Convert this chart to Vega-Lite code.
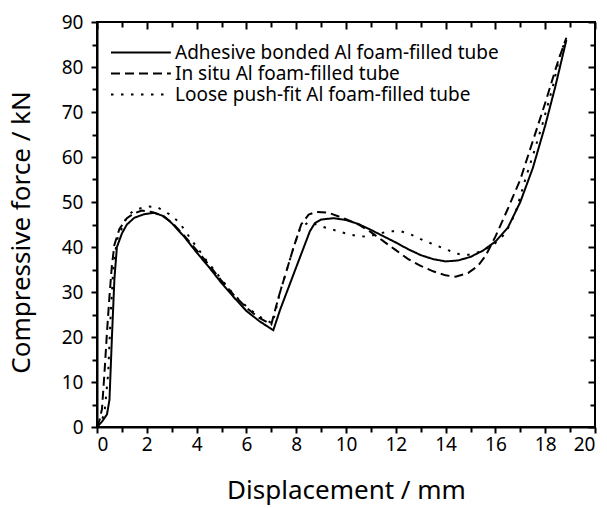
{
  "$schema": "https://vega.github.io/schema/vega-lite/v6.json",
  "width": 498,
  "height": 405,
  "autosize": {"type": "none"},
  "padding": {"left": 97, "top": 22, "right": 12, "bottom": 81},
  "background": "white",
  "config": {
    "font": "Noto Sans",
    "view": {"stroke": "black", "strokeWidth": 2},
    "axis": {
      "labelFont": "Noto Sans", "labelFontSize": 19, "labelColor": "black",
      "titleFont": "Noto Sans", "titleFontSize": 26, "titleFontWeight": "normal", "titleColor": "black",
      "domainColor": "black", "tickColor": "black", "grid": false, "tickWidth": 2, "domainWidth": 2
    },
    "legend": {"labelFont": "Noto Sans", "labelFontSize": 19, "labelColor": "black", "labelLimit": 0}
  },
  "data": {"values": [
    {"s": "Adhesive bonded Al foam-filled tube", "d": 0, "f": 0},
    {"s": "Adhesive bonded Al foam-filled tube", "d": 0.2, "f": 1.2},
    {"s": "Adhesive bonded Al foam-filled tube", "d": 0.4, "f": 2.8},
    {"s": "Adhesive bonded Al foam-filled tube", "d": 0.5, "f": 6},
    {"s": "Adhesive bonded Al foam-filled tube", "d": 0.6, "f": 20},
    {"s": "Adhesive bonded Al foam-filled tube", "d": 0.7, "f": 33},
    {"s": "Adhesive bonded Al foam-filled tube", "d": 0.8, "f": 40},
    {"s": "Adhesive bonded Al foam-filled tube", "d": 1.0, "f": 43},
    {"s": "Adhesive bonded Al foam-filled tube", "d": 1.2, "f": 45},
    {"s": "Adhesive bonded Al foam-filled tube", "d": 1.5, "f": 46.5},
    {"s": "Adhesive bonded Al foam-filled tube", "d": 1.9, "f": 47.3},
    {"s": "Adhesive bonded Al foam-filled tube", "d": 2.3, "f": 47.6},
    {"s": "Adhesive bonded Al foam-filled tube", "d": 2.7, "f": 46.8},
    {"s": "Adhesive bonded Al foam-filled tube", "d": 3.0, "f": 45.3},
    {"s": "Adhesive bonded Al foam-filled tube", "d": 3.5, "f": 42.3},
    {"s": "Adhesive bonded Al foam-filled tube", "d": 4.0, "f": 38.8},
    {"s": "Adhesive bonded Al foam-filled tube", "d": 4.5, "f": 35.5},
    {"s": "Adhesive bonded Al foam-filled tube", "d": 5.0, "f": 32},
    {"s": "Adhesive bonded Al foam-filled tube", "d": 5.5, "f": 28.8},
    {"s": "Adhesive bonded Al foam-filled tube", "d": 6.0, "f": 25.8},
    {"s": "Adhesive bonded Al foam-filled tube", "d": 6.5, "f": 23.6},
    {"s": "Adhesive bonded Al foam-filled tube", "d": 7.08, "f": 21.5},
    {"s": "Adhesive bonded Al foam-filled tube", "d": 7.35, "f": 26},
    {"s": "Adhesive bonded Al foam-filled tube", "d": 8.0, "f": 35.5},
    {"s": "Adhesive bonded Al foam-filled tube", "d": 8.55, "f": 43.5},
    {"s": "Adhesive bonded Al foam-filled tube", "d": 8.75, "f": 45.3},
    {"s": "Adhesive bonded Al foam-filled tube", "d": 9.0, "f": 46.1},
    {"s": "Adhesive bonded Al foam-filled tube", "d": 9.5, "f": 46.4},
    {"s": "Adhesive bonded Al foam-filled tube", "d": 10.0, "f": 46},
    {"s": "Adhesive bonded Al foam-filled tube", "d": 10.5, "f": 45.1},
    {"s": "Adhesive bonded Al foam-filled tube", "d": 11.0, "f": 43.8},
    {"s": "Adhesive bonded Al foam-filled tube", "d": 11.5, "f": 42.4},
    {"s": "Adhesive bonded Al foam-filled tube", "d": 12.0, "f": 41},
    {"s": "Adhesive bonded Al foam-filled tube", "d": 12.5, "f": 39.5},
    {"s": "Adhesive bonded Al foam-filled tube", "d": 13.0, "f": 38.2},
    {"s": "Adhesive bonded Al foam-filled tube", "d": 13.5, "f": 37.3},
    {"s": "Adhesive bonded Al foam-filled tube", "d": 14.0, "f": 36.8},
    {"s": "Adhesive bonded Al foam-filled tube", "d": 14.5, "f": 37},
    {"s": "Adhesive bonded Al foam-filled tube", "d": 15.0, "f": 37.8},
    {"s": "Adhesive bonded Al foam-filled tube", "d": 15.5, "f": 39.2},
    {"s": "Adhesive bonded Al foam-filled tube", "d": 16.0, "f": 41.2},
    {"s": "Adhesive bonded Al foam-filled tube", "d": 16.5, "f": 44.3},
    {"s": "Adhesive bonded Al foam-filled tube", "d": 17.0, "f": 50},
    {"s": "Adhesive bonded Al foam-filled tube", "d": 17.5, "f": 57.5},
    {"s": "Adhesive bonded Al foam-filled tube", "d": 18.0, "f": 67},
    {"s": "Adhesive bonded Al foam-filled tube", "d": 18.4, "f": 75.5},
    {"s": "Adhesive bonded Al foam-filled tube", "d": 18.85, "f": 86},
    {"s": "In situ Al foam-filled tube", "d": 0, "f": 0},
    {"s": "In situ Al foam-filled tube", "d": 0.1, "f": 1.5},
    {"s": "In situ Al foam-filled tube", "d": 0.2, "f": 4},
    {"s": "In situ Al foam-filled tube", "d": 0.3, "f": 12},
    {"s": "In situ Al foam-filled tube", "d": 0.4, "f": 21},
    {"s": "In situ Al foam-filled tube", "d": 0.5, "f": 29},
    {"s": "In situ Al foam-filled tube", "d": 0.6, "f": 36},
    {"s": "In situ Al foam-filled tube", "d": 0.7, "f": 40.5},
    {"s": "In situ Al foam-filled tube", "d": 0.9, "f": 44},
    {"s": "In situ Al foam-filled tube", "d": 1.2, "f": 46.4},
    {"s": "In situ Al foam-filled tube", "d": 1.5, "f": 47.5},
    {"s": "In situ Al foam-filled tube", "d": 1.8, "f": 48.1},
    {"s": "In situ Al foam-filled tube", "d": 2.2, "f": 47.8},
    {"s": "In situ Al foam-filled tube", "d": 2.6, "f": 47},
    {"s": "In situ Al foam-filled tube", "d": 3.0, "f": 45.5},
    {"s": "In situ Al foam-filled tube", "d": 3.5, "f": 42.5},
    {"s": "In situ Al foam-filled tube", "d": 4.0, "f": 39.3},
    {"s": "In situ Al foam-filled tube", "d": 4.5, "f": 36},
    {"s": "In situ Al foam-filled tube", "d": 5.0, "f": 32.5},
    {"s": "In situ Al foam-filled tube", "d": 5.5, "f": 29.3},
    {"s": "In situ Al foam-filled tube", "d": 6.0, "f": 26.5},
    {"s": "In situ Al foam-filled tube", "d": 6.5, "f": 24.3},
    {"s": "In situ Al foam-filled tube", "d": 7.0, "f": 22.8},
    {"s": "In situ Al foam-filled tube", "d": 7.3, "f": 29},
    {"s": "In situ Al foam-filled tube", "d": 7.6, "f": 34.5},
    {"s": "In situ Al foam-filled tube", "d": 7.9, "f": 40},
    {"s": "In situ Al foam-filled tube", "d": 8.2, "f": 45},
    {"s": "In situ Al foam-filled tube", "d": 8.5, "f": 47.2},
    {"s": "In situ Al foam-filled tube", "d": 8.8, "f": 47.8},
    {"s": "In situ Al foam-filled tube", "d": 9.3, "f": 47.6},
    {"s": "In situ Al foam-filled tube", "d": 10.0, "f": 46.2},
    {"s": "In situ Al foam-filled tube", "d": 10.5, "f": 45},
    {"s": "In situ Al foam-filled tube", "d": 11.0, "f": 43.3},
    {"s": "In situ Al foam-filled tube", "d": 11.5, "f": 41.3},
    {"s": "In situ Al foam-filled tube", "d": 12.0, "f": 39.3},
    {"s": "In situ Al foam-filled tube", "d": 12.5, "f": 37.3},
    {"s": "In situ Al foam-filled tube", "d": 13.0, "f": 35.8},
    {"s": "In situ Al foam-filled tube", "d": 13.5, "f": 34.6},
    {"s": "In situ Al foam-filled tube", "d": 14.0, "f": 33.7},
    {"s": "In situ Al foam-filled tube", "d": 14.4, "f": 33.4},
    {"s": "In situ Al foam-filled tube", "d": 14.9, "f": 34.2},
    {"s": "In situ Al foam-filled tube", "d": 15.3, "f": 35.8},
    {"s": "In situ Al foam-filled tube", "d": 15.6, "f": 38},
    {"s": "In situ Al foam-filled tube", "d": 16.0, "f": 42.3},
    {"s": "In situ Al foam-filled tube", "d": 16.5, "f": 48.5},
    {"s": "In situ Al foam-filled tube", "d": 17.0, "f": 55},
    {"s": "In situ Al foam-filled tube", "d": 17.5, "f": 63.5},
    {"s": "In situ Al foam-filled tube", "d": 18.0, "f": 72},
    {"s": "In situ Al foam-filled tube", "d": 18.5, "f": 81},
    {"s": "In situ Al foam-filled tube", "d": 18.85, "f": 86.5},
    {"s": "Loose push-fit Al foam-filled tube", "d": 0, "f": 0},
    {"s": "Loose push-fit Al foam-filled tube", "d": 0.15, "f": 1},
    {"s": "Loose push-fit Al foam-filled tube", "d": 0.3, "f": 3},
    {"s": "Loose push-fit Al foam-filled tube", "d": 0.45, "f": 12},
    {"s": "Loose push-fit Al foam-filled tube", "d": 0.55, "f": 25},
    {"s": "Loose push-fit Al foam-filled tube", "d": 0.65, "f": 35},
    {"s": "Loose push-fit Al foam-filled tube", "d": 0.8, "f": 41.5},
    {"s": "Loose push-fit Al foam-filled tube", "d": 1.2, "f": 46.8},
    {"s": "Loose push-fit Al foam-filled tube", "d": 1.5, "f": 48.2},
    {"s": "Loose push-fit Al foam-filled tube", "d": 2.0, "f": 49},
    {"s": "Loose push-fit Al foam-filled tube", "d": 2.4, "f": 48.9},
    {"s": "Loose push-fit Al foam-filled tube", "d": 2.9, "f": 47.3},
    {"s": "Loose push-fit Al foam-filled tube", "d": 3.3, "f": 45.5},
    {"s": "Loose push-fit Al foam-filled tube", "d": 3.8, "f": 41.5},
    {"s": "Loose push-fit Al foam-filled tube", "d": 4.4, "f": 37},
    {"s": "Loose push-fit Al foam-filled tube", "d": 5.0, "f": 32.8},
    {"s": "Loose push-fit Al foam-filled tube", "d": 5.5, "f": 29.4},
    {"s": "Loose push-fit Al foam-filled tube", "d": 6.0, "f": 26.8},
    {"s": "Loose push-fit Al foam-filled tube", "d": 6.5, "f": 24.6},
    {"s": "Loose push-fit Al foam-filled tube", "d": 7.05, "f": 23},
    {"s": "Loose push-fit Al foam-filled tube", "d": 7.35, "f": 30},
    {"s": "Loose push-fit Al foam-filled tube", "d": 7.6, "f": 34.5},
    {"s": "Loose push-fit Al foam-filled tube", "d": 7.9, "f": 40},
    {"s": "Loose push-fit Al foam-filled tube", "d": 8.15, "f": 44},
    {"s": "Loose push-fit Al foam-filled tube", "d": 8.5, "f": 45.6},
    {"s": "Loose push-fit Al foam-filled tube", "d": 9.0, "f": 44.6},
    {"s": "Loose push-fit Al foam-filled tube", "d": 9.5, "f": 43.8},
    {"s": "Loose push-fit Al foam-filled tube", "d": 10.0, "f": 43},
    {"s": "Loose push-fit Al foam-filled tube", "d": 10.5, "f": 42.4},
    {"s": "Loose push-fit Al foam-filled tube", "d": 10.9, "f": 42.3},
    {"s": "Loose push-fit Al foam-filled tube", "d": 11.3, "f": 43},
    {"s": "Loose push-fit Al foam-filled tube", "d": 11.8, "f": 43.5},
    {"s": "Loose push-fit Al foam-filled tube", "d": 12.2, "f": 43.5},
    {"s": "Loose push-fit Al foam-filled tube", "d": 12.6, "f": 42.8},
    {"s": "Loose push-fit Al foam-filled tube", "d": 13.1, "f": 41.5},
    {"s": "Loose push-fit Al foam-filled tube", "d": 13.6, "f": 40.4},
    {"s": "Loose push-fit Al foam-filled tube", "d": 14.1, "f": 39.3},
    {"s": "Loose push-fit Al foam-filled tube", "d": 14.6, "f": 38.3},
    {"s": "Loose push-fit Al foam-filled tube", "d": 15.0, "f": 38.3},
    {"s": "Loose push-fit Al foam-filled tube", "d": 15.4, "f": 39},
    {"s": "Loose push-fit Al foam-filled tube", "d": 15.9, "f": 40.4},
    {"s": "Loose push-fit Al foam-filled tube", "d": 16.4, "f": 43},
    {"s": "Loose push-fit Al foam-filled tube", "d": 16.8, "f": 47.5},
    {"s": "Loose push-fit Al foam-filled tube", "d": 17.2, "f": 55},
    {"s": "Loose push-fit Al foam-filled tube", "d": 17.6, "f": 62},
    {"s": "Loose push-fit Al foam-filled tube", "d": 17.9, "f": 67.5},
    {"s": "Loose push-fit Al foam-filled tube", "d": 18.3, "f": 75.5},
    {"s": "Loose push-fit Al foam-filled tube", "d": 18.65, "f": 84},
    {"s": "Loose push-fit Al foam-filled tube", "d": 18.9, "f": 86}
  ]},
  "resolve": {"axis": {"x": "independent", "y": "independent"}},
  "layer": [
    {
      "mark": {"type": "point", "opacity": 0},
      "encoding": {
        "x": {"field": "d", "type": "quantitative", "scale": {"domain": [0, 20], "nice": false},
              "axis": {"orient": "bottom", "values": [1,3,5,7,9,11,13,15,17,19], "labels": false, "domain": false, "tickSize": 5, "title": null}},
        "y": {"field": "f", "type": "quantitative", "scale": {"domain": [0, 90], "nice": false},
              "axis": {"orient": "left", "values": [5,15,25,35,45,55,65,75,85], "labels": false, "domain": false, "tickSize": 5, "title": null}}
      }
    },
    {
      "mark": {"type": "point", "opacity": 0},
      "encoding": {
        "x": {"field": "d", "type": "quantitative", "scale": {"domain": [0, 20], "nice": false},
              "axis": {"orient": "top", "values": [0,2,4,6,8,10,12,14,16,18,20], "labels": false, "domain": false, "offset": -7, "tickSize": 7, "title": null}},
        "y": {"field": "f", "type": "quantitative", "scale": {"domain": [0, 90], "nice": false},
              "axis": {"orient": "right", "values": [0,10,20,30,40,50,60,70,80,90], "labels": false, "domain": false, "offset": -7, "tickSize": 7, "title": null}}
      }
    },
    {
      "mark": {"type": "point", "opacity": 0},
      "encoding": {
        "x": {"field": "d", "type": "quantitative", "scale": {"domain": [0, 20], "nice": false},
              "axis": {"orient": "top", "values": [1,3,5,7,9,11,13,15,17,19], "labels": false, "domain": false, "offset": -5, "tickSize": 5, "title": null}},
        "y": {"field": "f", "type": "quantitative", "scale": {"domain": [0, 90], "nice": false},
              "axis": {"orient": "right", "values": [5,15,25,35,45,55,65,75,85], "labels": false, "domain": false, "offset": -5, "tickSize": 5, "title": null}}
      }
    },
    {
      "mark": {"type": "line", "strokeWidth": 2, "color": "black"},
      "encoding": {
        "x": {"field": "d", "type": "quantitative", "scale": {"domain": [0, 20], "nice": false},
              "axis": {"orient": "bottom", "values": [0,2,4,6,8,10,12,14,16,18,20], "tickSize": 6, "labelPadding": 2, "title": "Displacement / mm", "titlePadding": 23}},
        "y": {"field": "f", "type": "quantitative", "scale": {"domain": [0, 90], "nice": false},
              "axis": {"orient": "left", "values": [0,10,20,30,40,50,60,70,80,90], "tickSize": 6, "labelPadding": 8, "title": "Compressive force / kN", "titlePadding": 27, "titleY": 210}},
        "strokeDash": {
          "field": "s", "type": "nominal",
          "scale": {
            "domain": ["Adhesive bonded Al foam-filled tube", "In situ Al foam-filled tube", "Loose push-fit Al foam-filled tube"],
            "range": [[1, 0], [9, 5], [2.5, 7.5]]
          },
          "legend": {
            "title": null, "orient": "none", "legendX": 13, "legendY": 20,
            "symbolType": "M-1,0H5.3", "symbolSize": 361, "symbolStrokeWidth": 2, "symbolStrokeColor": "black",
            "labelOffset": 44, "rowPadding": 0
          }
        }
      }
    }
  ]
}
